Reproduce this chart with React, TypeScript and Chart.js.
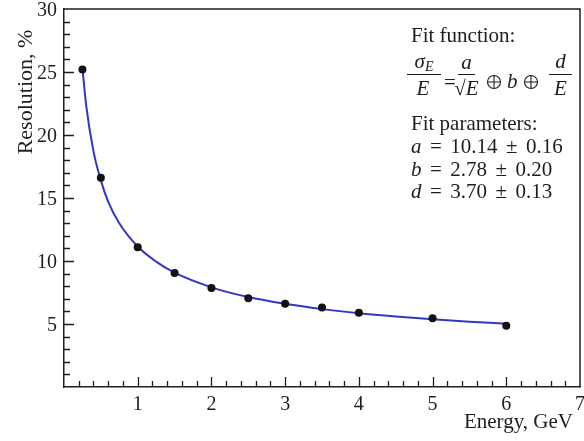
import React, { useEffect, useRef } from 'react';
import { Chart, registerables } from 'chart.js';

Chart.register(...registerables);

// Measured points
const energy = [0.25, 0.5, 1, 1.5, 2, 2.5, 3, 3.5, 4, 5, 6];
const resolution = [25.2, 16.6, 11.1, 9.05, 7.85, 7.05, 6.6, 6.3, 5.9, 5.45, 4.87];

// Fit curve
const fitEnergy = [0.25, 0.3, 0.4, 0.5, 0.6, 0.75, 1, 1.25, 1.5, 2, 2.5, 3, 3.5, 4, 4.5, 5, 5.5, 6];
const fitResolution = [25.3, 22.4, 18.7, 16.4, 14.7, 13.0, 11.15, 9.95, 9.07, 7.91, 7.14, 6.6, 6.18, 5.85, 5.59, 5.37, 5.18, 5.02];

const xMin = 0;
const xMax = 7;
const yMin = 0;
const yMax = 30;
const xMajorStep = 1;
const yMajorStep = 5;

const xTitle = 'Energy, GeV';
const yTitle = 'Resolution, %';
const fitTitle = 'Fit function:';
const paramTitle = 'Fit parameters:';
const paramNames = ['a', 'b', 'd'];
const paramValues = ['10.14', '2.78', '3.70'];
const paramErrors = ['0.16', '0.20', '0.13'];

const SERIF = '"Liberation Serif", "DejaVu Serif", serif';
const INK = '#1e1e1e';

const decorPlugin = {
  id: 'decor',
  afterDraw(chart: any) {
    const { ctx, chartArea: ca, scales } = chart;
    const xs = scales.x;
    const ys = scales.y;
    ctx.save();
    ctx.strokeStyle = INK;
    ctx.lineWidth = 1.5;
    // top and right frame
    ctx.beginPath();
    ctx.moveTo(ca.left, ca.top);
    ctx.lineTo(ca.right, ca.top);
    ctx.lineTo(ca.right, ca.bottom);
    ctx.stroke();

    // inward ticks on x
    ctx.lineWidth = 1.3;
    ctx.beginPath();
    for (let i = 1; i < 35; i++) {
      const v = i * 0.2;
      const px = Math.round(xs.getPixelForValue(v)) + 0.5;
      const len = i % 5 === 0 ? 10 : 6;
      ctx.moveTo(px, ca.bottom);
      ctx.lineTo(px, ca.bottom - len);
    }
    // inward ticks on y
    for (let i = 1; i < 30; i++) {
      const py = Math.round(ys.getPixelForValue(i)) + 0.5;
      const len = i % 5 === 0 ? 10 : 6;
      ctx.moveTo(ca.left, py);
      ctx.lineTo(ca.left + len, py);
    }
    ctx.stroke();

    ctx.fillStyle = INK;
    ctx.textBaseline = 'alphabetic';

    // axis titles
    ctx.font = `21px ${SERIF}`;
    ctx.textAlign = 'right';
    ctx.fillText(xTitle, 573, 428);

    ctx.save();
    ctx.translate(32, 92);
    ctx.rotate(-Math.PI / 2);
    ctx.textAlign = 'center';
    ctx.font = `22px ${SERIF}`;
    ctx.fillText(yTitle, 0, 0);
    ctx.restore();

    // annotation
    ctx.textAlign = 'left';
    ctx.font = `21px ${SERIF}`;
    ctx.fillText(fitTitle, 411, 42);

    const barY = 74;
    const ital = `italic 21px ${SERIF}`;
    const italSub = `italic 14px ${SERIF}`;
    const roman = `21px ${SERIF}`;
    const numY = barY - 6;
    const denY = barY + 21;

    const bar = (x0: number, x1: number) => {
      ctx.lineWidth = 1;
      ctx.beginPath();
      ctx.moveTo(x0, barY + 0.5);
      ctx.lineTo(x1, barY + 0.5);
      ctx.stroke();
    };
    const centered = (text: string, font: string, cx: number, by: number) => {
      ctx.font = font;
      const w = ctx.measureText(text).width;
      ctx.fillText(text, cx - w / 2, by);
    };
    const oplus = (cx: number, cy: number) => {
      ctx.lineWidth = 1.1;
      ctx.beginPath();
      ctx.arc(cx, cy, 6.5, 0, Math.PI * 2);
      ctx.moveTo(cx - 6.5, cy);
      ctx.lineTo(cx + 6.5, cy);
      ctx.moveTo(cx, cy - 6.5);
      ctx.lineTo(cx, cy + 6.5);
      ctx.stroke();
    };

    // sigma_E / E
    bar(407, 441);
    ctx.font = ital;
    const ws = ctx.measureText('σ').width;
    ctx.font = italSub;
    const we = ctx.measureText('E').width;
    const sx = (407 + 441) / 2 - (ws + we) / 2;
    ctx.font = ital;
    ctx.fillText('σ', sx, numY);
    ctx.font = italSub;
    ctx.fillText('E', sx + ws, numY + 3);
    centered('E', ital, 423, denY);

    // =
    ctx.font = roman;
    ctx.fillText('=', 444, barY + 15);

    // a / sqrt(E)
    bar(458, 475);
    centered('a', ital, 466.5, numY + 1);
    ctx.font = roman;
    const wr = ctx.measureText('√').width;
    ctx.font = ital;
    const wE = ctx.measureText('E').width;
    const rx = 466.5 - (wr + wE) / 2;
    ctx.font = roman;
    ctx.fillText('√', rx, denY);
    ctx.font = ital;
    ctx.fillText('E', rx + wr, denY);

    oplus(494, barY + 8);
    ctx.font = ital;
    ctx.fillText('b', 507, barY + 14);
    oplus(531, barY + 8);

    // d / E
    bar(549, 572);
    centered('d', ital, 560.5, numY);
    centered('E', ital, 560.5, denY);

    // parameters
    ctx.font = roman;
    ctx.fillText(paramTitle, 411, 130);
    const lineY0 = 153;
    const gap = 8.5;
    for (let i = 0; i < paramNames.length; i++) {
      const by = lineY0 + i * 22.5;
      let x = 411;
      ctx.font = ital;
      ctx.fillText(paramNames[i], x, by);
      x += ctx.measureText(paramNames[i]).width + gap;
      ctx.font = roman;
      const parts = ['=', paramValues[i], '±', paramErrors[i]];
      for (const p of parts) {
        ctx.fillText(p, x, by);
        x += ctx.measureText(p).width + gap;
      }
    }
    ctx.restore();
  },
};

export default function App() {
  const ref = useRef<HTMLCanvasElement | null>(null);

  useEffect(() => {
    if (!ref.current) return;
    const chart = new Chart(ref.current, {
      type: 'scatter',
      data: {
        datasets: [
          {
            label: 'Data',
            data: energy.map((e, i) => ({ x: e, y: resolution[i] })),
            showLine: false,
            pointRadius: 4,
            pointBackgroundColor: '#111111',
            pointBorderColor: '#111111',
            pointBorderWidth: 0,
            order: 0,
          },
          {
            label: 'Fit',
            data: fitEnergy.map((e, i) => ({ x: e, y: fitResolution[i] })),
            showLine: true,
            pointRadius: 0,
            borderColor: '#3535c4',
            borderWidth: 2,
            cubicInterpolationMode: 'monotone',
            order: 1,
          } as any,
        ],
      },
      options: {
        animation: false,
        responsive: false,
        devicePixelRatio: 1,
        layout: { padding: { left: 0, top: 9, right: 1, bottom: 0 } },
        plugins: {
          legend: { display: false },
          tooltip: { enabled: false },
        },
        scales: {
          x: {
            type: 'linear',
            min: xMin,
            max: xMax,
            afterFit: (s: any) => {
              s.height = 54;
              s.paddingLeft = 0;
              s.paddingRight = 0;
            },
            ticks: {
              stepSize: xMajorStep,
              padding: 6,
              color: INK,
              font: { family: SERIF, size: 20 },
              callback: (v: any) => (v === 0 ? '' : String(v)),
            },
            grid: { display: false, drawTicks: false },
            border: { display: true, color: INK, width: 1.5 },
          },
          y: {
            type: 'linear',
            min: yMin,
            max: yMax,
            afterFit: (s: any) => {
              s.width = 64;
              s.paddingTop = 0;
              s.paddingBottom = 0;
            },
            ticks: {
              stepSize: yMajorStep,
              padding: 7,
              labelOffset: 2,
              color: INK,
              font: { family: SERIF, size: 20 },
              callback: (v: any) => (v === 0 ? '' : String(v)),
            },
            grid: { display: false, drawTicks: false },
            border: { display: true, color: INK, width: 1.5 },
          },
        },
      },
      plugins: [decorPlugin],
    });
    return () => chart.destroy();
  }, []);

  return (
    <div style={{ position: 'fixed', left: 0, top: 0, width: 584, height: 441, background: '#fff' }}>
      <canvas ref={ref} width={584} height={441} style={{ display: 'block' }} />
    </div>
  );
}
